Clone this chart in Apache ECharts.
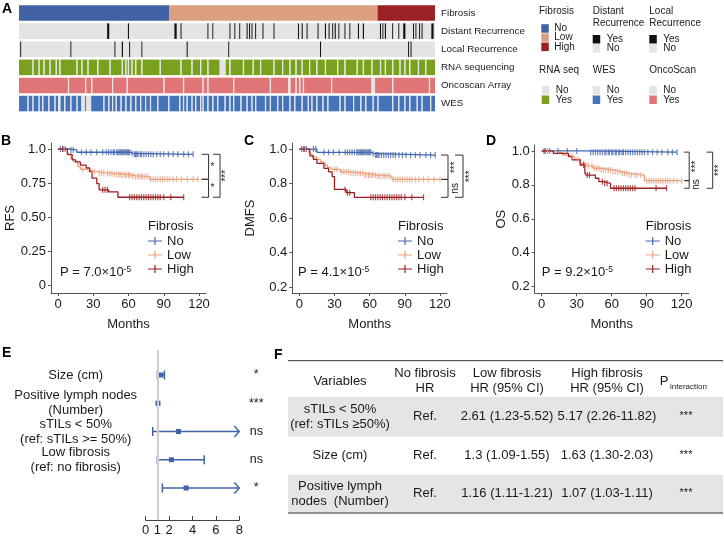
<!DOCTYPE html>
<html>
<head>
<meta charset="utf-8">
<script src="https://cdn.jsdelivr.net/npm/echarts@6/dist/echarts.min.js"></script>
<style>
html, body { margin: 0; padding: 0; background: #fff; }
#chart { width: 724px; height: 536px; }
</style>
</head>
<body>
<div id="chart"></div>
<script>
// ---------- A: sample annotation tracks ----------
var nSamples = 340
var fibrosisCounts = [123, 170, 47]          // No, Low, High
var rowNames = ['Fibrosis', 'Distant Recurrence', 'Local Recurrence', 'RNA sequencing', 'Oncoscan Array', 'WES']
var distantYes = [72, 73, 89, 127, 128, 132, 154, 158, 172, 176, 180, 186, 188, 190, 193, 199, 208, 228, 231, 235, 244, 250, 253, 256, 258, 261, 266, 270, 277, 281, 295, 297, 299, 305, 310, 314, 315, 322, 324, 327, 329, 337, 338]
var localYes = [1, 42, 78, 84, 90, 100, 137, 171, 246, 318, 320]
var rnaNo = [11, 16, 20, 25, 30, 33, 47, 51, 56, 64, 74, 84, 87, 89, 92, 95, 100, 115, 132, 141, 148, 154, 164, 165, 166, 167, 168, 172, 183, 191, 197, 208, 215, 221, 226, 231, 237, 243, 250, 260, 266, 276, 281, 288, 295, 299, 305, 311, 315, 319, 326, 332]
var oncoNo = [40, 54, 59, 76, 88, 118, 134, 150, 154, 175, 205, 220, 221, 226, 229, 232, 255, 288, 289, 290, 305, 335]
var wesNo = [7, 11, 16, 19, 24, 29, 32, 33, 37, 42, 47, 51, 52, 53, 55, 56, 57, 58, 69, 73, 76, 79, 83, 87, 91, 95, 99, 103, 107, 113, 122, 131, 134, 137, 141, 144, 148, 150, 154, 158, 162, 168, 172, 175, 181, 186, 190, 193, 201, 205, 211, 215, 221, 225, 231, 236, 239, 243, 248, 252, 262, 266, 273, 279, 283, 289, 293, 305, 310, 315, 319, 325, 329, 336]

// ---------- B-D: Kaplan-Meier curves [month, survival] ----------
var groups = ['No', 'Low', 'High']
var rfsNo = [[0, 1], [9, 0.993], [16, 0.976], [62, 0.968], [64, 0.961], [115, 0.961]]
var rfsLow = [[0, 1], [8, 0.975], [9, 0.956], [11, 0.93], [13, 0.907], [15, 0.895], [17, 0.87], [19, 0.85], [24, 0.84], [27, 0.833], [33, 0.826], [40, 0.82], [47, 0.815], [55, 0.809], [62, 0.803], [66, 0.797], [78, 0.777], [120, 0.777]]
var rfsHigh = [[0, 1], [8, 0.96], [12, 0.92], [15, 0.905], [19, 0.882], [24, 0.86], [27, 0.833], [29, 0.785], [33, 0.745], [35, 0.7], [43, 0.685], [51, 0.645], [107, 0.645]]
var rfsNoCens = [2, 4, 6, 11, 13, 20, 24, 28, 33, 38, 41, 43, 45, 47, 48, 50, 51, 52, 53, 54, 55, 56, 57, 58, 59, 60, 61, 63, 65, 66, 67, 68, 70, 71, 73, 75, 77, 79, 81, 84, 87, 90, 94, 98, 102, 107, 111, 115]
var rfsLowCens = [5, 21, 29, 31, 35, 37, 39, 42, 44, 46, 48, 50, 52, 53, 55, 57, 58, 60, 61, 63, 64, 66, 68, 69, 71, 72, 74, 76, 79, 81, 83, 85, 87, 89, 91, 93, 95, 98, 101, 105, 110, 115, 119]
var rfsHighCens = [4, 38, 40, 42, 61, 63, 65, 67, 69, 71, 73, 75, 77, 79, 81, 83, 85, 87, 90, 96, 107]

var dmfsNo = [[0, 1], [15, 0.981], [62, 0.973], [64, 0.965], [116, 0.965]]
var dmfsLow = [[0, 1], [8, 0.985], [9, 0.97], [11, 0.955], [15, 0.94], [18, 0.925], [21, 0.907], [24, 0.894], [27, 0.882], [35, 0.868], [44, 0.86], [55, 0.849], [66, 0.843], [79, 0.824], [120, 0.824]]
var dmfsHigh = [[0, 1], [9, 0.96], [12, 0.94], [15, 0.917], [21, 0.888], [25, 0.868], [28, 0.84], [30, 0.766], [40, 0.747], [47, 0.72], [106, 0.72]]
var dmfsNoCens = [2, 4, 6, 12, 14, 21, 25, 29, 34, 39, 41, 43, 45, 47, 49, 50, 51, 52, 53, 54, 55, 56, 57, 58, 59, 60, 61, 63, 65, 66, 67, 68, 70, 72, 74, 76, 78, 80, 82, 85, 88, 91, 95, 99, 103, 108, 112, 116]
var dmfsLowCens = [5, 22, 30, 32, 36, 38, 40, 42, 44, 46, 48, 50, 52, 54, 56, 57, 59, 60, 62, 63, 65, 67, 68, 70, 72, 73, 75, 77, 80, 82, 84, 86, 88, 90, 92, 94, 96, 99, 102, 106, 110, 115, 120]
var dmfsHighCens = [4, 39, 41, 43, 61, 63, 65, 67, 69, 71, 73, 75, 77, 79, 81, 83, 85, 87, 90, 96, 106]

var osNo = [[0, 1], [36, 0.993], [116, 0.993]]
var osLow = [[0, 1], [8, 0.99], [18, 0.976], [22, 0.966], [28, 0.951], [33, 0.927], [38, 0.912], [44, 0.898], [50, 0.888], [61, 0.878], [68, 0.868], [75, 0.858], [88, 0.825], [120, 0.825]]
var osHigh = [[0, 1], [10, 0.986], [23, 0.966], [26, 0.947], [33, 0.917], [37, 0.872], [38, 0.858], [46, 0.839], [49, 0.819], [53, 0.809], [59, 0.78], [107, 0.78]]
var osNoCens = [3, 5, 7, 14, 22, 30, 42, 44, 46, 48, 50, 52, 54, 55, 57, 58, 60, 61, 63, 64, 66, 67, 69, 70, 72, 74, 76, 78, 80, 82, 84, 86, 88, 91, 95, 99, 103, 108, 112, 116]
var osLowCens = [5, 26, 31, 36, 40, 43, 45, 47, 49, 51, 53, 55, 57, 59, 61, 63, 65, 67, 69, 71, 73, 75, 77, 80, 82, 85, 90, 92, 94, 96, 98, 100, 102, 104, 106, 108, 110, 113, 116, 120]
var osHighCens = [2, 36, 39, 41, 52, 54, 56, 62, 64, 66, 68, 70, 72, 74, 76, 78, 80, 98, 107]

var kmNames = ['RFS', 'DMFS', 'OS']
var pValues = ['7.0', '4.1', '9.2']
var pExponent = '-5'
var kmSig = [['*', '*', '***'], ['***', 'ns', '***'], ['***', 'ns', '***']]   // No-Low, Low-High, No-High

// ---------- E: forest plot ----------
var forestLabels = ['Size (cm)', 'Positive lymph nodes\n(Number)', 'sTILs < 50%\n(ref: sTILs >= 50%)', 'Low fibrosis\n(ref: no fibrosis)', 'High fibrosis\n(ref: no fibrosis)']
var forestHR = [1.3, 1.05, 2.8, 2.2, 3.45]
var forestLow = [1.0, 1.02, 0.6, 1.0, 1.42]
var forestHigh = [1.6, 1.08, 12, 5.0, 14]
var forestSig = ['*', '***', 'ns', 'ns', '*']

// ---------- F: interaction table ----------
var tableHeader = ['Variables', 'No fibrosis\nHR', 'Low fibrosis\nHR (95% CI)', 'High fibrosis\nHR (95% CI)']
var tableVars = ['sTILs < 50%\n(ref: sTILs \u226550%)', 'Size (cm)', 'Positive lymph\nnodes  (Number)']
var tableNoFib = ['Ref.', 'Ref.', 'Ref.']
var tableLowFib = ['2.61 (1.23-5.52)', '1.3 (1.09-1.55)', '1.16 (1.11-1.21)']
var tableHighFib = ['5.17 (2.26-11.82)', '1.63 (1.30-2.03)', '1.07 (1.03-1.11)']
var tablePInt = ['***', '***', '***']

// ---------- styles ----------
var FF = '"Liberation Sans", Arial, Helvetica, sans-serif'
var T = '#1a1a1a'
var AX = '#555'
var kmColors = ['#4466b0', '#eba27f', '#9c1f22']
var heatColors = [
  ['#4162a5', '#dca080', '#9b2124'],
  ['#e4e4e4', '#111111'],
  ['#e4e4e4', '#111111'],
  ['#e4e4e4', '#7aa11e'],
  ['#e4e4e4', '#df7576'],
  ['#e4e4e4', '#4473b9']
]
var forestColor = '#4262a8'

// build per-sample codes and merge runs for the annotation tracks
function flagRow(list, base, flagged) {
  var a = []
  for (var i = 0; i < nSamples; i++) a.push(base)
  list.forEach(function (k) { a[k] = flagged })
  return a
}
var fibRow = []
fibrosisCounts.forEach(function (c, lvl) { for (var i = 0; i < c; i++) fibRow.push(lvl) })
var trackRows = [fibRow, flagRow(distantYes, 0, 1), flagRow(localYes, 0, 1), flagRow(rnaNo, 1, 0), flagRow(oncoNo, 1, 0), flagRow(wesNo, 1, 0)]
var heatRuns = []
trackRows.forEach(function (row, r) {
  var s = 0
  for (var i = 1; i <= row.length; i++) {
    if (i === row.length || row[i] !== row[s]) {
      heatRuns.push([s, i, r, row[s]])
      s = i
    }
  }
})

function survAt(steps, t) {
  var v = steps[0][1]
  steps.forEach(function (p) { if (p[0] <= t) v = p[1] })
  return v
}

function txt(x, y, s, size, opt) {
  opt = opt || {}
  return {
    type: 'text', x: x, y: y, rotation: opt.rot || 0, silent: true,
    style: {
      text: s, fill: opt.color || T, fontSize: size, fontFamily: FF,
      fontWeight: opt.bold ? 'bold' : 'normal',
      align: opt.align || 'left', verticalAlign: opt.va || 'middle',
      lineHeight: opt.lh || Math.round(size * 1.15), rich: opt.rich
    }
  }
}
function box(x, y, w, h, fill) {
  return { type: 'rect', silent: true, shape: { x: x, y: y, width: w, height: h }, style: { fill: fill } }
}
function hline(x1, x2, y, color) {
  return { type: 'line', silent: true, shape: { x1: x1, y1: y, x2: x2, y2: y }, style: { stroke: color, lineWidth: 1 } }
}

// ---------- grids ----------
var kmGrids = [
  { left: 50.95, top: 143, width: 155.1, height: 150, ymin: -0.059, ymax: 1.044, ticks: [0, 0.25, 0.5, 0.75, 1], gap: 34 },
  { left: 292.3, top: 143, width: 154.7, height: 150, ymin: 0.165, ymax: 1.035, ticks: [0.2, 0.4, 0.6, 0.8, 1], gap: 35 },
  { left: 534.7, top: 145, width: 154, height: 148.3, ymin: 0.161, ymax: 1.035, ticks: [0.2, 0.4, 0.6, 0.8, 1], gap: 27 }
]
var kmData = [[rfsNo, rfsLow, rfsHigh], [dmfsNo, dmfsLow, dmfsHigh], [osNo, osLow, osHigh]]
var kmCens = [[rfsNoCens, rfsLowCens, rfsHighCens], [dmfsNoCens, dmfsLowCens, dmfsHighCens], [osNoCens, osLowCens, osHighCens]]
// bracket offsets (px) from the right end of each KM x axis: inner and outer brackets
var bracketLayout = [
  [{ a0: -4.5, a1: 2.5, lx: 6.5 }, { a0: 7, a1: 14, lx: 20.5 }],
  [{ a0: -6, a1: 1, lx: 8 }, { a0: 8, a1: 16, lx: 23 }],
  [{ a0: -4.5, a1: 0.5, lx: 8 }, { a0: 18, a1: 24, lx: 31 }]
]

var grids = [{ left: 19, top: 4, width: 416, height: 108.6, outerBoundsMode: 'none' }]
var xAxes = [{ gridIndex: 0, type: 'value', min: 0, max: nSamples, show: false }]
var yAxes = [{
  gridIndex: 0, type: 'category', data: rowNames, inverse: true, position: 'right',
  axisLine: { show: false }, axisTick: { show: false },
  axisLabel: { fontSize: 9.8, color: T, margin: 6, fontFamily: FF }
}]
var series = [{
  type: 'custom', xAxisIndex: 0, yAxisIndex: 0, silent: true,
  data: heatRuns,
  renderItem: function (params, api) {
    var r = api.value(2)
    var p0 = api.coord([api.value(0), r]), p1 = api.coord([api.value(1), r])
    var h = api.size([0, 1])[1] * 0.86
    return { type: 'rect', shape: { x: p0[0], y: p0[1] - h / 2, width: p1[0] - p0[0], height: h }, style: { fill: heatColors[r][api.value(3)] } }
  }
}]

var legends = []
var graphics = []

kmGrids.forEach(function (g, p) {
  var gi = p + 1
  grids.push({ left: g.left, top: g.top, width: g.width, height: g.height, outerBoundsMode: 'none' })
  xAxes.push({
    gridIndex: gi, type: 'value', min: -6, max: 126, name: 'Months', nameLocation: 'middle', nameGap: 25, nameMoveOverlap: false,
    nameTextStyle: { fontSize: 13, color: T, fontFamily: FF },
    axisLine: { onZero: false, lineStyle: { color: AX } },
    axisTick: { customValues: [0, 30, 60, 90, 120], length: 3, lineStyle: { color: AX } },
    axisLabel: { customValues: [0, 30, 60, 90, 120], fontSize: 13, color: T, margin: 5, fontFamily: FF },
    splitLine: { show: false }
  })
  yAxes.push({
    gridIndex: gi, type: 'value', min: g.ymin, max: g.ymax, name: kmNames[p], nameLocation: 'middle', nameGap: g.gap, nameMoveOverlap: false,
    nameTextStyle: { fontSize: 13, color: T, fontFamily: FF },
    axisLine: { onZero: false, lineStyle: { color: AX } },
    axisTick: { customValues: g.ticks, length: 3, lineStyle: { color: AX } },
    axisLabel: {
      customValues: g.ticks, fontSize: 13, color: T, margin: 5, fontFamily: FF,
      formatter: function (v) {
        if (p === 0) return v === 0 ? '0' : (v === 1 ? '1.0' : v.toFixed(2))
        return v.toFixed(1)
      }
    },
    splitLine: { show: false }
  })
  kmData[p].forEach(function (steps, k) {
    series.push({
      type: 'line', name: groups[k], xAxisIndex: gi, yAxisIndex: gi, step: 'end', data: steps,
      showSymbol: false, silent: true, z: 2,
      lineStyle: { width: 1.3, color: kmColors[k] }, itemStyle: { color: kmColors[k] }
    })
    series.push({
      type: 'scatter', name: groups[k], xAxisIndex: gi, yAxisIndex: gi, silent: true, z: 3,
      data: kmCens[p][k].map(function (t) { return [t, survAt(steps, t)] }),
      symbol: 'rect', symbolSize: [1.2, 6], itemStyle: { color: kmColors[k] }
    })
  })
  // significance brackets between final survival levels
  var ends = kmData[p].map(function (s) { return s[s.length - 1][1] })
  var pairs = [[ends[0], ends[1], 0], [ends[1], ends[2], 0], [ends[0], ends[2], 1]]
  series.push({
    type: 'custom', xAxisIndex: gi, yAxisIndex: gi, silent: true, clip: false, z: 4,
    data: pairs.map(function (b) { return [126, b[0], b[1], b[2]] }),
    renderItem: function (params, api) {
      var lay = bracketLayout[p][api.value(3)]
      var pT = api.coord([126, api.value(1)]), pB = api.coord([126, api.value(2)])
      var x0 = pT[0] + lay.a0, x1 = pT[0] + lay.a1
      var lab = kmSig[p][params.dataIndex]
      return {
        type: 'group', children: [
          { type: 'polyline', shape: { points: [[x0, pT[1]], [x1, pT[1]], [x1, pB[1]], [x0, pB[1]]] }, style: { stroke: '#333', fill: null, lineWidth: 1 } },
          { type: 'text', x: pT[0] + lay.lx, y: (pT[1] + pB[1]) / 2, rotation: lab === '*' ? 0 : Math.PI / 2,
            style: { text: lab, fontSize: 10, fontFamily: FF, fill: T, align: 'center', verticalAlign: 'middle' } }
        ]
      }
    }
  })
  var legX = [148, 398, 645.7][p]
  legends.push({
    left: legX, top: 234.5, orient: 'vertical', padding: 0, itemGap: 1, selectedMode: false,
    data: groups, itemWidth: 14, itemHeight: 8,
    icon: 'path://M0,3.5H14V4.6H0Z M6.4,0H7.6V8H6.4Z',
    textStyle: { fontSize: 13, color: T, fontFamily: FF }
  })
  graphics.push(txt(legX, 226.7, 'Fibrosis', 13))
  graphics.push(txt([60, 298, 541.7][p], 272.7, '{a|P = ' + pValues[p] + '\u00d710}{s|' + pExponent + '}', 13, {
    rich: { a: { fontSize: 13, fontFamily: FF, fill: T, lineHeight: 16 }, s: { fontSize: 8.5, fontFamily: FF, fill: T, lineHeight: 8, verticalAlign: 'top' } }
  }))
})

// forest plot
grids.push({ left: 145.7, top: 350, width: 93.6, height: 170, outerBoundsMode: 'none' })
xAxes.push({
  gridIndex: 4, type: 'value', min: 0, max: 8,
  axisLine: { onZero: false, lineStyle: { color: '#444' } },
  axisTick: { inside: true, length: 4, customValues: [0, 2, 4, 6, 8], lineStyle: { color: '#444' } },
  axisLabel: { customValues: [0, 1, 2, 4, 6, 8], fontSize: 13, color: T, margin: 4, fontFamily: FF },
  splitLine: { show: false }
})
yAxes.push({
  gridIndex: 4, type: 'value', inverse: true, min: -0.885, max: 5.133,
  axisLine: { show: false }, axisTick: { show: false }, splitLine: { show: false },
  axisLabel: { customValues: [0, 1, 2, 3, 4], formatter: function (v) { return forestLabels[Math.round(v)] },
    align: 'center', margin: 70, fontSize: 13, lineHeight: 15, color: T, fontFamily: FF }
})
yAxes.push({
  gridIndex: 4, type: 'value', inverse: true, min: -0.885, max: 5.133, position: 'right',
  axisLine: { show: false }, axisTick: { show: false }, splitLine: { show: false },
  axisLabel: { customValues: [0, 1, 2, 3, 4], formatter: function (v) { return forestSig[Math.round(v)] },
    align: 'center', margin: 17, fontSize: 12.5, color: T, fontFamily: FF }
})
series.push({
  type: 'line', xAxisIndex: 4, yAxisIndex: 4, data: [], silent: true, z: 1,
  markLine: { silent: true, symbol: 'none', label: { show: false }, lineStyle: { color: '#cfcfcf', width: 2, type: 'solid' }, data: [{ xAxis: 1 }] }
})
series.push({
  type: 'custom', xAxisIndex: 4, yAxisIndex: 4, silent: true, clip: false, z: 3,
  data: forestHR.map(function (v, i) { return [v, i, forestLow[i], forestHigh[i]] }),
  renderItem: function (params, api) {
    var row = api.value(1), hi = api.value(3)
    var pLo = api.coord([api.value(2), row]), pHi = api.coord([Math.min(hi, 8), row]), pE = api.coord([api.value(0), row])
    var st = { stroke: forestColor, lineWidth: 1.5, fill: null }
    var ch = [
      { type: 'line', shape: { x1: pLo[0], y1: pLo[1], x2: pHi[0], y2: pHi[1] }, style: st },
      { type: 'line', shape: { x1: pLo[0], y1: pLo[1] - 4.5, x2: pLo[0], y2: pLo[1] + 4.5 }, style: st },
      { type: 'rect', shape: { x: pE[0] - 2.5, y: pE[1] - 2.5, width: 5, height: 5 }, style: { fill: forestColor } }
    ]
    if (hi > 8) {
      ch.push({ type: 'polyline', shape: { points: [[pHi[0] - 5, pHi[1] - 5.5], [pHi[0], pHi[1]], [pHi[0] - 5, pHi[1] + 5.5]] }, style: st })
    } else {
      ch.push({ type: 'line', shape: { x1: pHi[0], y1: pHi[1] - 4.5, x2: pHi[0], y2: pHi[1] + 4.5 }, style: st })
    }
    return { type: 'group', children: ch }
  }
})

// ---------- panel A legend ----------
var GRAY = '#e4e4e4'
var LF = 10
graphics.push(txt(539, 11, 'Fibrosis', LF))
groups.forEach(function (g, i) {
  graphics.push(box(541.3, 24.2 + i * 9.2, 7.5, 8.5, heatColors[0][i]))
  graphics.push(txt(554.3, 28.5 + i * 9.2, g, LF))
})
;[['Distant', 592.7, heatColors[1][1]], ['Local', 649.3, heatColors[2][1]]].forEach(function (d) {
  graphics.push(txt(d[1], 11, d[0], LF))
  graphics.push(txt(d[1], 23.3, 'Recurrence', LF))
  graphics.push(box(d[1], 35, 7.5, 8.5, d[2]))
  graphics.push(box(d[1], 44.2, 7.5, 8.5, GRAY))
  graphics.push(txt(d[1] + 14, 38.8, 'Yes', LF))
  graphics.push(txt(d[1] + 14, 48.3, 'No', LF))
})
;[['RNA seq', 539, 541.7, heatColors[3][1]], ['WES', 592.7, 592.7, heatColors[5][1]], ['OncoScan', 649.3, 649.3, heatColors[4][1]]].forEach(function (d) {
  graphics.push(txt(d[1], 70.7, d[0], LF))
  graphics.push(box(d[2], 86, 7.5, 8.5, GRAY))
  graphics.push(box(d[2], 95.5, 7.5, 8.5, d[3]))
  graphics.push(txt(d[2] + 14, 90.2, 'No', LF))
  graphics.push(txt(d[2] + 14, 99.8, 'Yes', LF))
})

// ---------- panel letters ----------
;[['A', 2, 9], ['B', 1, 141], ['C', 244, 141], ['D', 486, 141], ['E', 2, 353], ['F', 274, 355]].forEach(function (l) {
  graphics.push(txt(l[1], l[2], l[0], 14, { bold: true, color: '#000' }))
})

// ---------- panel F table ----------
var tLeft = 288, tRight = 723
var colX = [340, 425, 507, 607, 686]
var rowBands = [[396.7, 436.7], [436.7, 474.7], [474.7, 513]]
rowBands.forEach(function (b, i) {
  if (i % 2 === 0) graphics.push(box(tLeft, b[0], tRight - tLeft, b[1] - b[0], '#e5e5e5'))
})
graphics.push(hline(tLeft, tRight, 360.7, '#333'))
graphics.push(hline(tLeft, tRight, 513, '#333'))
tableHeader.forEach(function (h, j) {
  graphics.push(txt(colX[j], 381, h, 13, { align: 'center', lh: 14.5 }))
})
graphics.push(txt(664, 381, 'P', 13, { align: 'center' }))
graphics.push(txt(670, 386.5, 'interaction', 8))
var tableCols = [tableVars, tableNoFib, tableLowFib, tableHighFib]
rowBands.forEach(function (b, i) {
  var cy = (b[0] + b[1]) / 2
  tableCols.forEach(function (col, j) {
    graphics.push(txt(colX[j], cy, col[i], 13, { align: 'center', lh: 15 }))
  })
  graphics.push(txt(colX[4], cy - 1, tablePInt[i], 11, { align: 'center' }))
})

var chart = echarts.init(document.getElementById('chart'), null, { renderer: 'canvas' })
chart.setOption({
  animation: false,
  backgroundColor: '#fff',
  textStyle: { fontFamily: FF },
  grid: grids,
  xAxis: xAxes,
  yAxis: yAxes,
  legend: legends,
  series: series,
  graphic: graphics
})
</script>
</body>
</html>
